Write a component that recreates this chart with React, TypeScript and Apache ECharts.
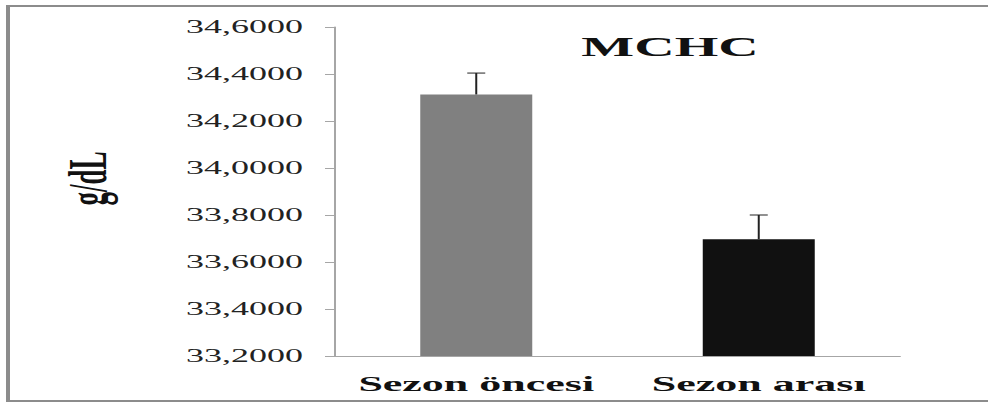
import React, { useEffect, useRef } from "react";
import * as echarts from "echarts";

const categories = ["Sezon öncesi", "Sezon arası"];
const means = [34.313, 33.697];
const errors = [0.091, 0.103];
const barColors = ["#808080", "#111111"];
const yMin = 33.2;
const yMax = 34.6;
const yStep = 0.2;
const titleText = "MCHC";
const yName = "g/dL";

export default function App() {
  const ref = useRef<HTMLDivElement>(null);
  useEffect(() => {
    if (!ref.current) return;
    const chart = echarts.init(ref.current, undefined, { renderer: "svg" });
    const serif = "'Liberation Serif', 'Times New Roman', serif";
    chart.setOption({
      animation: false,
      backgroundColor: "#ffffff",
      grid: { left: 167.5, right: 44, top: 27, bottom: 47 },
      graphic: [
        {
          type: "rect",
          shape: { x: 4, y: 6, width: 520, height: 395 },
          style: { fill: "none", stroke: "#8c8c8c", lineWidth: 2 },
          silent: true,
        },
        {
          type: "text",
          x: 335,
          y: 47,
          style: {
            text: titleText,
            font: `bold 28px ${serif}`,
            fill: "#111",
            textAlign: "center",
            textVerticalAlign: "middle",
          },
        },
      ],
      xAxis: {
        type: "category",
        data: categories,
        axisLine: { lineStyle: { color: "#a6a6a6", width: 1 } },
        axisTick: { length: 6, lineStyle: { color: "#a6a6a6" } },
        axisLabel: {
          interval: 0,
          margin: 17,
          fontFamily: serif,
          fontWeight: "bold",
          fontSize: 22,
          color: "#111",
        },
      },
      yAxis: {
        type: "value",
        min: yMin,
        max: yMax,
        interval: yStep,
        name: yName,
        nameLocation: "middle",
        nameGap: 110,
        nameTextStyle: {
          fontFamily: serif,
          fontWeight: "bold",
          fontSize: 27,
          color: "#111",
          padding: [0, 0, 0, 26],
        },
        axisLine: { show: true, lineStyle: { color: "#a6a6a6", width: 1 } },
        axisTick: { show: true, length: 5, lineStyle: { color: "#a6a6a6" } },
        splitLine: { show: false },
        axisLabel: {
          margin: 16,
          fontFamily: serif,
          fontSize: 18,
          color: "#222",
          formatter: (v: number) => v.toFixed(4).replace(".", ","),
        },
      },
      series: [
        {
          type: "bar",
          barWidth: 56,
          data: means.map((m, i) => ({ value: m, itemStyle: { color: barColors[i] } })),
          z: 2,
        },
        {
          type: "custom",
          z: 3,
          data: means.map((m, i) => [i, m, m + errors[i]]),
          encode: { x: 0, y: [1, 2] },
          renderItem: (params: any, api: any) => {
            const base = api.coord([api.value(0), api.value(1)]);
            const top = api.coord([api.value(0), api.value(2)]);
            const half = 4.5;
            const style = { stroke: "#222", lineWidth: 1 };
            return {
              type: "group",
              children: [
                { type: "line", shape: { x1: top[0], y1: base[1], x2: top[0], y2: top[1] }, style },
                { type: "line", shape: { x1: top[0] - half, y1: top[1], x2: top[0] + half, y2: top[1] }, style },
              ],
            };
          },
        },
      ],
    });
    return () => chart.dispose();
  }, []);
  return (
    <div
      ref={ref}
      style={{
        position: "absolute",
        left: 0,
        top: 0,
        width: 494,
        height: 403,
        transform: "scaleX(2)",
        transformOrigin: "0 0",
      }}
    />
  );
}
